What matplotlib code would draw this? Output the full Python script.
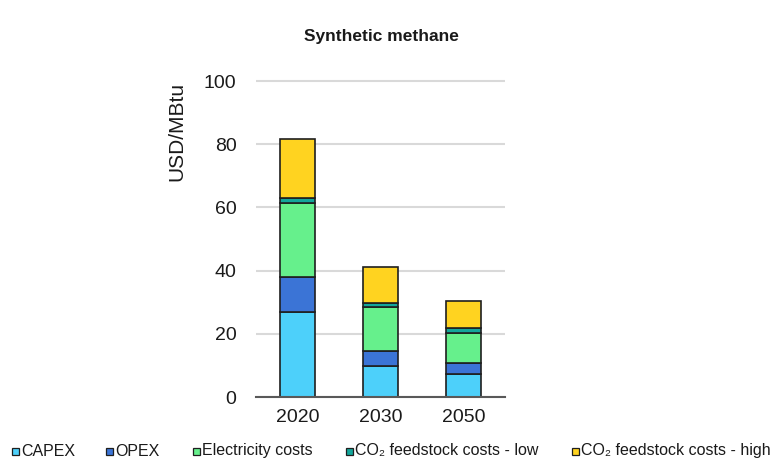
import matplotlib
matplotlib.use("Agg")
import matplotlib.pyplot as plt
from matplotlib.patches import Rectangle
import numpy as np

plt.rcParams['font.family'] = ['Liberation Sans', 'DejaVu Sans']

years = ["2020", "2030", "2050"]
capex = [27.0, 9.9, 7.3]
opex = [11.0, 4.7, 3.6]
electricity = [23.3, 13.8, 9.2]
co2_low = [1.6, 1.4, 1.6]
co2_high = [18.6, 11.4, 8.7]

series = [
    ("CAPEX", capex, "#4dd0fa"),
    ("OPEX", opex, "#3b74d6"),
    ("Electricity costs", electricity, "#66f08c"),
    ("CO\u2082 feedstock costs - low", co2_low, "#13a69b"),
    ("CO\u2082 feedstock costs - high", co2_high, "#ffd320"),
]

W, H = 778, 459
fig = plt.figure(figsize=(W / 100, H / 100), dpi=100)

# axes box in pixel units (left, right, y of 0, y of 101)
x0, x1 = 256, 505
y_zero, y_top = 397, 397 - 101 * 3.16
ax = fig.add_axes([x0 / W, 1 - y_zero / H, (x1 - x0) / W, (y_zero - y_top) / H])

x = np.arange(len(years))
bottom = np.zeros(len(years))
for name, vals, col in series:
    ax.bar(x, vals, width=0.41, bottom=bottom, color=col,
           edgecolor="#1f1f1f", linewidth=1.2, zorder=3)
    bottom += np.array(vals)

ax.set_xlim(-0.5, 2.5)
ax.set_ylim(0, 101)
ax.set_yticks([0, 20, 40, 60, 80, 100])
ax.set_xticks(x)
ax.set_xticklabels(years)
ax.tick_params(axis="both", length=0, labelsize=14, colors="#1a1a1a")
ax.tick_params(axis="y", pad=14)
ax.tick_params(axis="x", pad=9)
ax.yaxis.grid(True, color="#d9d9d9", linewidth=1.5, zorder=0)
for s in ["top", "right", "left"]:
    ax.spines[s].set_visible(False)
ax.spines["bottom"].set_color("#595959")
ax.spines["bottom"].set_linewidth(1.5)
ax.spines["bottom"].set_zorder(4)

fig.text(381 / W, 1 - 37 / H, "Synthetic methane", ha="center", va="center",
         fontsize=12.5, fontweight="bold", color="#1a1a1a")
fig.text(177 / W, 1 - 131 / H, "USD/MBtu", ha="center", va="center",
         rotation=90, fontsize=15, color="#1a1a1a")

# legend row along the bottom
leg_x = [12, 106, 193, 346, 572]
leg_y = 451
for (name, vals, col), lx in zip(series, leg_x):
    fig.add_artist(Rectangle((lx / W, 1 - (leg_y + 3.5) / H), 7 / W, 7 / H,
                             transform=fig.transFigure, facecolor=col,
                             edgecolor="#1f1f1f", linewidth=0.9))
    fig.text((lx + 9) / W, 1 - leg_y / H, name, ha="left", va="center",
             fontsize=11.5, color="#1a1a1a")

fig.savefig("out.png", dpi=100, facecolor="white")
